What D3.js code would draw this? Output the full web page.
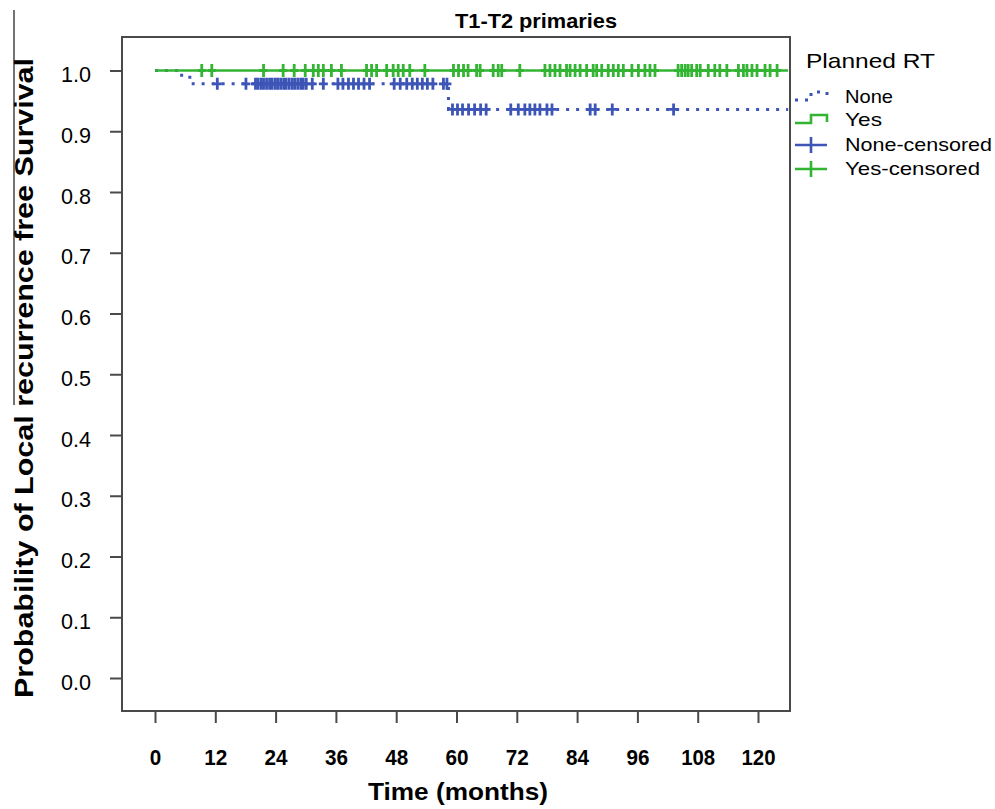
<!DOCTYPE html>
<html lang="en">
<head>
    <meta charset="UTF-8">
    <title>T1-T2 primaries</title>
    <script src="https://cdnjs.cloudflare.com/ajax/libs/d3/7.8.5/d3.min.js"></script>
    <style>
        body { margin: 0; background: #fff; font-family: "Liberation Sans", Arial, sans-serif; }
        svg text { fill: #000; }
    </style>
</head>
<body>
    <div id="chart"></div>

    <script>
        // Kaplan-Meier steps (time in months, survival)
        const noneSteps = [[0, 1.0], [5.3, 0.989], [7.6, 0.978], [58.4, 0.936]];
        const yesSteps = [[0, 1.0]];
        const followEnd = 126;

        // Censored times
        const noneCensored = [12.4, 18.1, 20.0, 20.5, 21.1, 21.6, 22.2, 22.8, 23.3, 23.9, 24.4, 25.0,
            25.6, 26.1, 26.7, 27.3, 27.8, 28.4, 29.0, 29.5, 30.1, 31.3, 33.5, 36.4, 37.4, 38.5,
            39.5, 40.5, 41.6, 42.7, 47.6, 48.8, 50.1, 51.2, 52.2, 53.2, 54.2, 55.3, 57.4, 58.1,
            59.2, 60.2, 61.2, 62.4, 63.6, 64.8, 65.9, 70.8, 72.3, 73.6, 74.6, 75.6, 76.6, 78.0,
            79.0, 86.6, 87.6, 91.0, 103.2];
        const yesCensored = [9.3, 11.3, 21.6, 25.5, 27.7, 29.9, 31.5, 32.5, 33.5, 35.1, 37.1, 42.1,
            43.1, 44.1, 46.1, 47.4, 48.4, 49.4, 50.7, 53.7, 59.4, 60.4, 61.4, 62.3, 64.0, 64.7,
            67.3, 68.3, 69.0, 72.6, 77.6, 78.6, 79.6, 80.6, 81.9, 82.6, 83.6, 84.6, 85.9, 87.2,
            87.9, 88.9, 90.2, 91.2, 92.2, 93.2, 94.9, 96.2, 97.5, 98.5, 99.5, 104.1, 104.8, 105.5,
            106.1, 106.8, 107.8, 108.5, 110.1, 111.4, 112.4, 113.8, 116.1, 117.1, 117.8, 118.8,
            119.8, 121.4, 122.4, 123.8];

        const xTicks = [0, 12, 24, 36, 48, 60, 72, 84, 96, 108, 120];
        const yTicks = [0.0, 0.1, 0.2, 0.3, 0.4, 0.5, 0.6, 0.7, 0.8, 0.9, 1.0];
        const legendLabels = ["None", "Yes", "None-censored", "Yes-censored"];

        const blue = "#3d55b6";
        const green = "#33b533";

        const width = 995, height = 809;
        const frame = {left: 122, top: 37, right: 790, bottom: 711};

        const svg = d3.select("#chart").append("svg")
            .attr("width", width)
            .attr("height", height);

        const x = d3.scaleLinear().domain([0, 120]).range([155, 758]);
        const y = d3.scaleLinear().domain([0, 1]).range([678, 70.5]);

        // stray vertical rule at far left
        svg.append("line")
            .attr("x1", 14).attr("x2", 14).attr("y1", 10).attr("y2", 405)
            .attr("stroke", "#444").attr("stroke-width", 1.5);

        // frame
        svg.append("rect")
            .attr("x", frame.left).attr("y", frame.top)
            .attr("width", frame.right - frame.left)
            .attr("height", frame.bottom - frame.top)
            .attr("fill", "none").attr("stroke", "#4a4a4a").attr("stroke-width", 2);

        // axes
        const yAxis = svg.append("g")
            .attr("transform", `translate(${frame.left},0)`)
            .call(d3.axisLeft(y).tickValues(yTicks).tickFormat(d3.format(".1f"))
                .tickSize(12).tickPadding(19));
        yAxis.select(".domain").remove();
        yAxis.selectAll("line").attr("stroke", "#4a4a4a").attr("stroke-width", 2);
        yAxis.selectAll("text")
            .attr("dy", "0.5em")
            .attr("textLength", 30).attr("lengthAdjust", "spacingAndGlyphs")
            .style("font-family", "'Liberation Sans', Arial, sans-serif")
            .style("font-size", "22px");

        const xAxis = svg.append("g")
            .attr("transform", `translate(0,${frame.bottom})`)
            .call(d3.axisBottom(x).tickValues(xTicks).tickSize(12).tickPadding(26));
        xAxis.select(".domain").remove();
        xAxis.selectAll("line").attr("stroke", "#4a4a4a").attr("stroke-width", 2);
        xAxis.selectAll("text")
            .attr("textLength", d => d >= 100 ? 34 : (d >= 10 ? 23 : 11.5))
            .attr("lengthAdjust", "spacingAndGlyphs")
            .style("font-family", "'Liberation Sans', Arial, sans-serif")
            .style("font-size", "22px")
            .style("font-weight", "bold");

        // curves
        const line = d3.line()
            .x(d => x(d[0]))
            .y(d => y(d[1]))
            .curve(d3.curveStepAfter);

        const withEnd = steps => steps.concat([[followEnd, steps[steps.length - 1][1]]]);

        // survival at time t for step data
        const survAt = (steps, t) => {
            let s = steps[0][1];
            steps.forEach(d => { if (d[0] <= t) s = d[1]; });
            return s;
        };

        svg.append("path")
            .attr("d", line(withEnd(noneSteps)))
            .attr("fill", "none")
            .attr("stroke", blue)
            .attr("stroke-width", 3)
            .attr("stroke-dasharray", "3,7");

        const crossPath = (cx, cy, hw, hh) =>
            `M${cx - hw},${cy}H${cx + hw}M${cx},${cy - hh}V${cy + hh}`;

        svg.append("g").selectAll("path")
            .data(noneCensored)
            .enter().append("path")
            .attr("d", t => crossPath(x(t), y(survAt(noneSteps, t)), 4.5, 6))
            .attr("stroke", blue)
            .attr("stroke-width", 2.8)
            .attr("fill", "none");

        svg.append("path")
            .attr("d", line(withEnd(yesSteps)))
            .attr("fill", "none")
            .attr("stroke", green)
            .attr("stroke-width", 2.6);

        svg.append("g").selectAll("path")
            .data(yesCensored)
            .enter().append("path")
            .attr("d", t => crossPath(x(t), y(survAt(yesSteps, t)), 4, 6.5))
            .attr("stroke", green)
            .attr("stroke-width", 2.8)
            .attr("fill", "none");

        // titles
        svg.append("text")
            .attr("x", 536).attr("y", 28)
            .attr("text-anchor", "middle")
            .attr("textLength", 162).attr("lengthAdjust", "spacingAndGlyphs")
            .style("font-size", "21px").style("font-weight", "bold")
            .text("T1-T2 primaries");

        svg.append("text")
            .attr("x", 458).attr("y", 800)
            .attr("text-anchor", "middle")
            .attr("textLength", 180).attr("lengthAdjust", "spacingAndGlyphs")
            .style("font-size", "24px").style("font-weight", "bold")
            .text("Time (months)");

        svg.append("text")
            .attr("transform", "translate(33,378) rotate(-90)")
            .attr("text-anchor", "middle")
            .attr("textLength", 640).attr("lengthAdjust", "spacingAndGlyphs")
            .style("font-size", "25px").style("font-weight", "bold")
            .text("Probability of Local recurrence free Survival");

        // legend
        const legend = svg.append("g");
        legend.append("text")
            .attr("x", 806).attr("y", 68)
            .attr("textLength", 129).attr("lengthAdjust", "spacingAndGlyphs")
            .style("font-size", "21px")
            .text("Planned RT");

        const legendY = [103, 126, 151, 175];
        const legendW = [48, 37, 147, 135];
        legendLabels.forEach((lab, i) => {
            legend.append("text")
                .attr("x", 845).attr("y", legendY[i])
                .attr("textLength", legendW[i]).attr("lengthAdjust", "spacingAndGlyphs")
                .style("font-size", "19px")
                .text(lab);
        });

        const stepSym = cy => `M795,${cy + 3}H811V${cy - 5}H827V${cy + 2}`;
        legend.append("path")
            .attr("d", stepSym(legendY[0] - 6))
            .attr("fill", "none").attr("stroke", blue)
            .attr("stroke-width", 3).attr("stroke-dasharray", "3,7");
        legend.append("path")
            .attr("d", stepSym(legendY[1] - 6))
            .attr("fill", "none").attr("stroke", green).attr("stroke-width", 2.6);
        legend.append("path")
            .attr("d", crossPath(811, legendY[2] - 6, 16, 8))
            .attr("fill", "none").attr("stroke", blue).attr("stroke-width", 2.6);
        legend.append("path")
            .attr("d", crossPath(811, legendY[3] - 6, 16, 8))
            .attr("fill", "none").attr("stroke", green).attr("stroke-width", 2.6);
    </script>
</body>
</html>
